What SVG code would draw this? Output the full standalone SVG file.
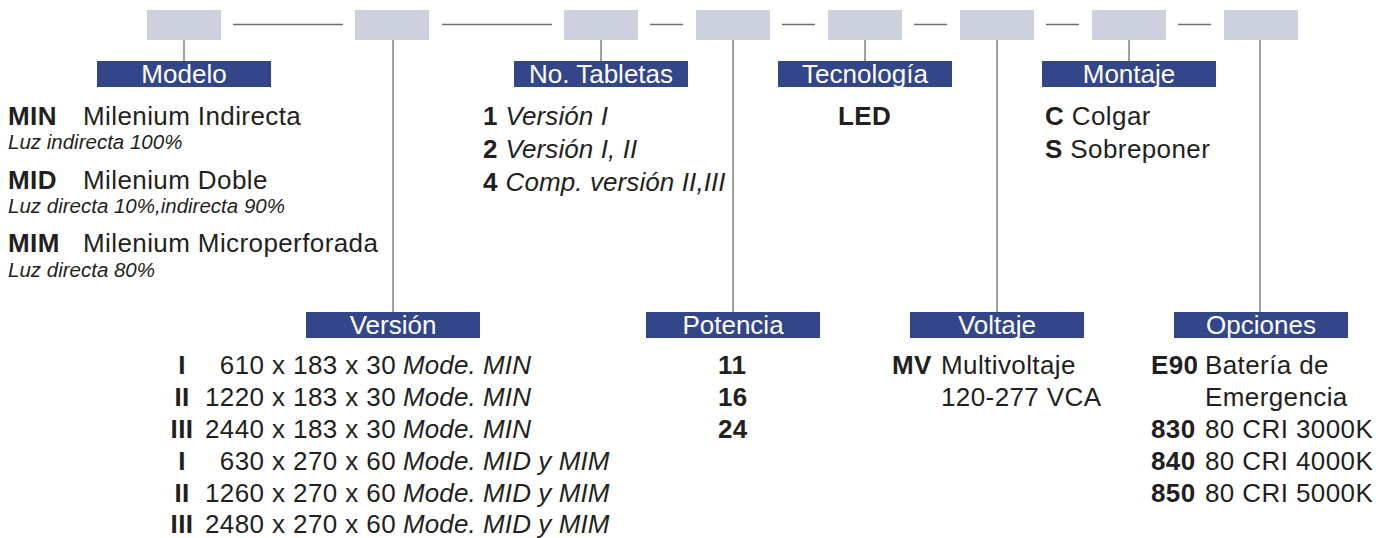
<svg xmlns="http://www.w3.org/2000/svg" width="1383" height="538" viewBox="0 0 1383 538">
<style>
.box{fill:#cdd0dd}
.lbl{fill:#33468a}
.lt{font-family:"Liberation Sans",Arial,sans-serif;font-size:26px;fill:#ffffff;text-anchor:middle}
.conn line{stroke:#6d6e71;stroke-width:1.3}
.t{font-family:"Liberation Sans",Arial,sans-serif;font-size:26px;fill:#231f20;letter-spacing:0.4px}
.b{font-weight:bold}
.i{font-style:italic;letter-spacing:0.1px}
.s{font-family:"Liberation Sans",Arial,sans-serif;font-size:20.5px;font-style:italic;fill:#231f20}
</style>
<rect width="1383" height="538" fill="#ffffff"/>
<g id="connectors" class="conn">
<line x1="233" y1="24.5" x2="343" y2="24.5"/>
<line x1="442" y1="24.5" x2="552" y2="24.5"/>
<line x1="650" y1="24.5" x2="683" y2="24.5"/>
<line x1="782" y1="24.5" x2="815" y2="24.5"/>
<line x1="914" y1="24.5" x2="947" y2="24.5"/>
<line x1="1046" y1="24.5" x2="1079" y2="24.5"/>
<line x1="1178" y1="24.5" x2="1211" y2="24.5"/>
<line x1="184" y1="40" x2="184" y2="61"/>
<line x1="393" y1="40" x2="393" y2="312"/>
<line x1="601" y1="40" x2="601" y2="61"/>
<line x1="733" y1="40" x2="733" y2="312"/>
<line x1="865" y1="40" x2="865" y2="61"/>
<line x1="997" y1="40" x2="997" y2="312"/>
<line x1="1129" y1="40" x2="1129" y2="61"/>
<line x1="1260" y1="40" x2="1260" y2="312"/>
</g>
<g id="code-boxes">
<rect class="box" x="147" y="10" width="74" height="30"/>
<rect class="box" x="355" y="10" width="74" height="30"/>
<rect class="box" x="564" y="10" width="74" height="30"/>
<rect class="box" x="696" y="10" width="74" height="30"/>
<rect class="box" x="828" y="10" width="74" height="30"/>
<rect class="box" x="960" y="10" width="74" height="30"/>
<rect class="box" x="1092" y="10" width="74" height="30"/>
<rect class="box" x="1224" y="10" width="74" height="30"/>
</g>
<g id="modelo">
<rect class="lbl" x="97" y="61" width="174" height="26"/>
<text class="lt" x="184" y="83">Modelo</text>
<text class="t" x="8" y="125"><tspan class="b">MIN</tspan><tspan x="83">Milenium Indirecta</tspan></text>
<text class="s" x="8" y="149">Luz indirecta 100%</text>
<text class="t" x="8" y="189"><tspan class="b">MID</tspan><tspan x="83">Milenium Doble</tspan></text>
<text class="s" x="8" y="213">Luz directa 10%,indirecta 90%</text>
<text class="t" x="8" y="252"><tspan class="b">MIM</tspan><tspan x="83">Milenium Microperforada</tspan></text>
<text class="s" x="8" y="277">Luz directa 80%</text>
</g>
<g id="tabletas">
<rect class="lbl" x="514" y="61" width="174" height="26"/>
<text class="lt" x="601" y="83">No. Tabletas</text>
<text class="t" x="483" y="125"><tspan class="b">1</tspan> <tspan class="i">Versión I</tspan></text>
<text class="t" x="483" y="158"><tspan class="b">2</tspan> <tspan class="i">Versión I, II</tspan></text>
<text class="t" x="483" y="191"><tspan class="b">4</tspan> <tspan class="i">Comp. versión II,III</tspan></text>
</g>
<g id="tecnologia">
<rect class="lbl" x="778" y="61" width="174" height="26"/>
<text class="lt" x="865" y="83">Tecnología</text>
<text class="t b" x="838" y="125">LED</text>
</g>
<g id="montaje">
<rect class="lbl" x="1042" y="61" width="174" height="26"/>
<text class="lt" x="1129" y="83">Montaje</text>
<text class="t" x="1045" y="125"><tspan class="b">C</tspan> Colgar</text>
<text class="t" x="1045" y="158"><tspan class="b">S</tspan> Sobreponer</text>
</g>
<g id="version">
<rect class="lbl" x="306" y="312" width="174" height="26"/>
<text class="lt" x="393" y="334">Versión</text>
<text class="t b" x="182" y="374" text-anchor="middle">I</text>
<text class="t" x="396" y="374" text-anchor="end">610 x 183 x 30</text>
<text class="t i" x="403" y="374">Mode. MIN</text>
<text class="t b" x="182" y="406" text-anchor="middle">II</text>
<text class="t" x="396" y="406" text-anchor="end">1220 x 183 x 30</text>
<text class="t i" x="403" y="406">Mode. MIN</text>
<text class="t b" x="182" y="438" text-anchor="middle">III</text>
<text class="t" x="396" y="438" text-anchor="end">2440 x 183 x 30</text>
<text class="t i" x="403" y="438">Mode. MIN</text>
<text class="t b" x="182" y="470" text-anchor="middle">I</text>
<text class="t" x="396" y="470" text-anchor="end">630 x 270 x 60</text>
<text class="t i" x="403" y="470">Mode. MID y MIM</text>
<text class="t b" x="182" y="502" text-anchor="middle">II</text>
<text class="t" x="396" y="502" text-anchor="end">1260 x 270 x 60</text>
<text class="t i" x="403" y="502">Mode. MID y MIM</text>
<text class="t b" x="182" y="533" text-anchor="middle">III</text>
<text class="t" x="396" y="533" text-anchor="end">2480 x 270 x 60</text>
<text class="t i" x="403" y="533">Mode. MID y MIM</text>
</g>
<g id="potencia">
<rect class="lbl" x="646" y="312" width="174" height="26"/>
<text class="lt" x="733" y="334">Potencia</text>
<text class="t b" x="718" y="374">11</text>
<text class="t b" x="718" y="406">16</text>
<text class="t b" x="718" y="438">24</text>
</g>
<g id="voltaje">
<rect class="lbl" x="910" y="312" width="174" height="26"/>
<text class="lt" x="997" y="334">Voltaje</text>
<text class="t" x="892" y="374"><tspan class="b">MV</tspan><tspan x="941">Multivoltaje</tspan></text>
<text class="t" x="941" y="406">120-277 VCA</text>
</g>
<g id="opciones">
<rect class="lbl" x="1174" y="312" width="174" height="26"/>
<text class="lt" x="1261" y="334">Opciones</text>
<text class="t" x="1151" y="374"><tspan class="b">E90</tspan><tspan x="1205">Batería de</tspan></text>
<text class="t" x="1205" y="406">Emergencia</text>
<text class="t" x="1151" y="438"><tspan class="b">830</tspan><tspan x="1205">80 CRI 3000K</tspan></text>
<text class="t" x="1151" y="470"><tspan class="b">840</tspan><tspan x="1205">80 CRI 4000K</tspan></text>
<text class="t" x="1151" y="502"><tspan class="b">850</tspan><tspan x="1205">80 CRI 5000K</tspan></text>
</g>
</svg>
